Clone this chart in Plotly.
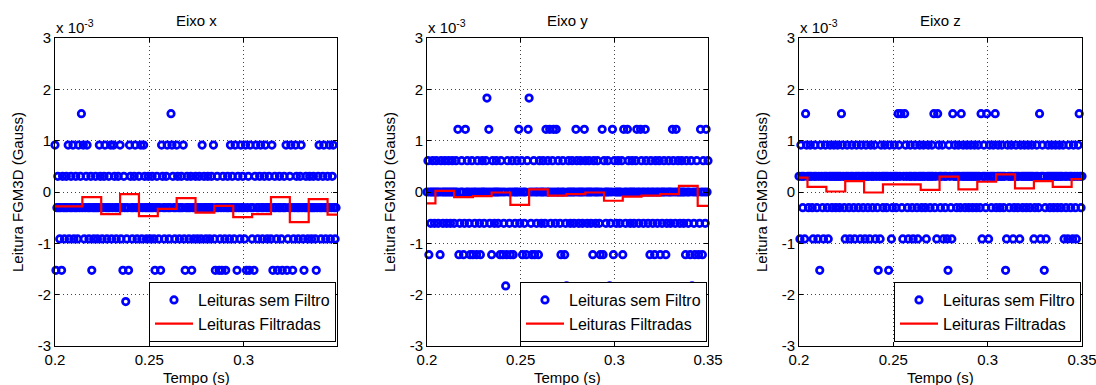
import plotly.graph_objects as go

# ---------------- data ----------------
T0 = 0.2          # first sample time (s)
DT = 0.0005       # sampling interval (s)
Q = 0.305         # quantisation step of the sensor (x 1e-3 Gauss)

# raw readings, in quantisation steps (value = code * Q * 1e-3 Gauss)
x_codes = [
    3, -5, -1, 1, -1, -3, -1, -5, 1, -1, -3, -1, 1, -1, 3, -3, -1, 1, -1, 3,
    -3, -1, 1, -1, -3, 3, -1, 1, 5, -1, 3, -3, -1, 1, 3, -1, -3, -1, 1, -5,
    -1, -3, -1, 1, -1, -3, -1, 3, 1, -1, -3, -1, 1, 3, -1, -3, -1, 1, -1, 3,
    -3, -1, 3, 1, -1, -3, -1, 1, -1, 3, -3, -1, -5, 1, -1, -7, -3, -1, -5, 3,
    1, -1, -3, -1, 1, 3, -1, -3, -1, 1, -1, 3, -3, -1, 3, 1, -1, -3, -1, 1,
    -1, -3, -1, 1, -1, -3, -5, -1, 1, -1, -3, -1, -5, 3, 1, -1, -3, -1, 1, 3,
    -1, -3, -1, 5, 3, 1, -1, -3, -1, 3, 1, -1, -3, -1, 1, -1, 3, -3, -5, -1,
    1, -1, -3, -1, 1, -5, -1, -3, -1, 1, -1, -3, -1, 1, -1, -3, 3, -1, 1, -1,
    -3, -1, 1, -1, -3, -1, 1, -1, 3, -3, -5, -1, 1, -1, -5, -3, -1, -5, 1, -1,
    -3, -5, -1, 1, -1, -3, 3, -1, 1, -1, -3, 3, -1, -5, 1, -1, -3, 3, -1, 1,
    -1, -3, 3, -5, -1, 1, -5, 3, -1, -3, -1, -5, 1, 3, -1, -3, -1, 1, 3, -1,
    -3, -1, 1, 3, -1, -3, -1, 1, -1, -3, 3, -5, -1, 1, -1, -3, -5, -1, 1, -1,
    -3, -5, -1, 1, -1, 3, -5, -3, -1, 1, 3, -1, -5, -3, -1, 3, 1, -1, -3, -1,
    1, 3, -1, -3, -5, -1, 1, -1, -3, -1, 1, -1, -3, -1, 1, -1, -3, -5, -1, 1,
    3, -1, -3, -1, 1, 3, -1, -3, -1, 1, -1, 3, -3, -1, 1, 3, -1, -3, -1, 1,
]
y_codes = [
    0, 2, -4, 0, -2, 0, 2, 0, -2, 0, 2, 0, -2, 0, -4, 2, 0, -2, 0, 2,
    0, -2, 0, 2, 0, -2, 0, 2, 0, -2, 0, 2, 0, 4, -4, -2, 0, 2, 0, -4,
    -2, 4, 0, 2, 0, -2, -4, 0, 2, -4, 0, -2, 0, -4, 2, 0, -2, -4, 0, 2,
    0, -2, 0, 2, 6, 0, 4, -2, 0, -4, 2, 0, -2, 0, 2, 0, -2, 0, -4, 2,
    0, -4, -2, 0, -6, -4, 2, 0, -2, -4, 0, 2, -4, 0, -2, 0, 2, 0, 4, -2,
    0, 2, -4, 0, -2, 0, -4, 2, 4, 6, 0, -2, -4, 0, 2, -4, 0, -2, 0, -4,
    2, 0, -2, 0, 2, 0, -2, 4, 0, 2, 0, 4, -2, 0, 2, 4, 0, -2, 4, 0,
    2, 0, -2, -4, 0, 2, 0, -4, -2, -6, 0, 2, 0, -2, 0, 2, 0, -2, 0, 4,
    2, 0, -2, 0, 2, 0, -2, 0, 4, 2, 0, -2, 0, 2, 0, -2, 0, -4, 2, 0,
    -2, 0, 2, 0, -2, -4, 0, 4, -4, 2, 0, -2, 0, 2, 0, -6, -2, 0, 4, -4,
    2, 0, -2, 0, 2, 0, -2, 0, 2, -4, 4, 0, -2, 0, 4, 2, 0, -2, 0, 2,
    0, -2, 0, 2, 4, 0, -2, 0, 4, 2, 0, -2, 0, 4, 2, 0, -2, 0, -4, 2,
    0, -2, 0, -4, 2, 0, -2, 0, 2, -4, 0, -2, 0, 2, 0, -4, -2, 0, 2, 0,
    -2, 0, 4, 2, 0, -2, 4, 0, 2, 0, -2, 0, 2, 0, -2, 0, -4, 2, 0, -2,
    0, -4, 2, -6, 0, -2, -4, 0, 2, 0, -4, -2, 4, 0, -4, 2, 0, -2, 4, 0, 2,
]
z_codes = [
    1, -3, 3, 1, -1, 1, -3, 5, 3, 1, -1, 1, 3, 1, -1, -3, 1, 3, 1, -1,
    -3, 1, -5, 3, 1, -1, -3, 1, 3, 1, -1, -3, 1, 3, 1, -1, 1, 3, 1, -1,
    1, 3, 1, -1, 1, 5, 3, 1, -1, -3, 1, 3, 1, -1, -3, 1, 3, 1, -1, -3,
    1, 3, 1, -1, 1, -3, 3, 1, -1, 1, -3, 3, 1, -1, 1, -3, 3, 1, -1, 1,
    3, -3, 1, -1, -5, 1, -3, 3, 1, -1, 1, 3, 1, -1, 1, -5, 3, 1, -3, -1,
    1, 3, 1, -1, 1, 5, 3, 1, 5, -1, -3, 1, 5, 3, 1, -1, -3, 1, 3, 1,
    -1, -3, 1, 3, 1, -1, -3, 1, 3, 1, -1, 1, 3, 1, -1, -3, 1, 3, 1, -1,
    1, 3, 1, 5, -1, 1, -3, 5, 3, 1, -1, 1, 3, -3, 1, -1, 1, -3, -5, 3,
    1, -1, -3, 5, 1, 3, 1, -1, 1, 3, 1, -1, 5, 1, 3, 1, -1, 1, 3, 1,
    -1, 1, 3, 1, -1, 1, 3, 1, -1, 1, 3, 1, -1, 5, -3, 1, 3, 1, -1, 5,
    1, -3, 3, 1, -1, 1, 3, 1, 5, -1, 1, 3, 1, -1, 1, 3, 1, -1, 1, -5,
    -3, 3, 1, -1, 1, 3, 1, -3, -1, 1, 3, 1, -1, 1, -3, 3, 1, -1, 1, 3,
    1, -1, 1, 3, 1, -1, 1, 3, 1, -3, -1, 1, 3, 1, -1, 5, -3, 1, 3, 1,
    -5, -1, -3, 1, 3, 1, -1, 1, 3, 1, -1, 1, 3, 1, -1, 1, 3, 1, -1, 1,
    3, -3, 1, -1, 1, -3, 3, 1, -1, 1, -3, 3, 1, -1, -3, 1, 3, 5, 1, -1, 1,
]

# filtered readings (block means, x 1e-3 Gauss), step edges in seconds
x_filt_t = [0.2, 0.2045, 0.2145, 0.2245, 0.2345, 0.2445, 0.2545, 0.2645, 0.2745,
            0.2845, 0.2945, 0.3045, 0.3145, 0.3245, 0.3345, 0.3445, 0.3495]
x_filt_v = [-0.28, -0.28, -0.10, -0.43, -0.04, -0.47, -0.33, -0.12, -0.40,
            -0.27, -0.49, -0.43, -0.10, -0.585, -0.14, -0.44, -0.44]
yz_filt_t = [0.2, 0.2045, 0.2145, 0.2245, 0.2345, 0.2445, 0.2545, 0.2645, 0.2745,
             0.2845, 0.2945, 0.3045, 0.3145, 0.3245, 0.3345, 0.3445, 0.35]
y_filt_v = [-0.22, 0.02, -0.10, -0.08, -0.01, -0.25, 0.05, -0.07, -0.04,
            -0.01, -0.17, -0.09, -0.07, -0.04, 0.12, -0.27, -0.27]
z_filt_v = [0.28, 0.10, 0.01, 0.21, -0.01, 0.15, 0.15, 0.04, 0.30,
            0.05, 0.20, 0.345, 0.07, 0.21, 0.10, 0.25, 0.25]

titles = ["Eixo x", "Eixo y", "Eixo z"]
x_ranges = [[0.2, 0.3495], [0.2, 0.35], [0.2, 0.35]]
x_ticks = [[0.2, 0.25, 0.3], [0.2, 0.25, 0.3, 0.35], [0.2, 0.25, 0.3, 0.35]]
y_ticks = [-3, -2, -1, 0, 1, 2, 3]
y_ticktext = ["-3", "-2", "-1", "0", "1", "2", "3"]

# ---------------- layout helpers ----------------
# body margin is removed below (post_script), so figure pixels == window pixels
W, H = 1096, 385
PLOT_L = [55, 427, 799]
PLOT_R = [337, 708, 1082]
PLOT_T, PLOT_B = 38, 346
FONT = "Liberation Sans, Arial, Helvetica, sans-serif"


def px(xp):
    return xp / W


def py(yp):
    return 1 - yp / H


fig = go.Figure()

raw_sets = [x_codes, y_codes, z_codes]
filt_sets = [(x_filt_t, x_filt_v), (yz_filt_t, y_filt_v), (yz_filt_t, z_filt_v)]
legend_names = ["legend", "legend2", "legend3"]

for k in range(3):
    codes = raw_sets[k]
    tt = [T0 + DT * i for i in range(len(codes))]
    vv = [c * Q for c in codes]
    xa = "x" if k == 0 else f"x{k+1}"
    ya = "y" if k == 0 else f"y{k+1}"
    fig.add_trace(go.Scatter(
        x=tt, y=vv, mode="markers", name="Leituras sem Filtro",
        marker=dict(symbol="circle-open", size=6.5, color="#0000ff",
                    line=dict(width=2.7, color="#0000ff")),
        xaxis=xa, yaxis=ya, legend=legend_names[k], cliponaxis=False,
        showlegend=True,
    ))
    ft, fv = filt_sets[k]
    fig.add_trace(go.Scatter(
        x=ft, y=fv, mode="lines", name="Leituras Filtradas",
        line=dict(color="#ff0000", width=2.2, shape="hv"),
        xaxis=xa, yaxis=ya, legend=legend_names[k], showlegend=True,
    ))

layout = dict(
    width=W, height=H,
    margin=dict(l=0, r=0, t=0, b=0, autoexpand=False),
    paper_bgcolor="white", plot_bgcolor="white",
    font=dict(family=FONT, size=15, color="black"),
)

annotations = []
for k in range(3):
    sx = "" if k == 0 else str(k + 1)
    common_axis = dict(
        showline=True, linecolor="black", linewidth=1, mirror="ticks",
        ticks="inside", ticklen=4, tickcolor="black", tickwidth=1,
        showgrid=True, gridcolor="#444444", gridwidth=1, griddash="1px,3px",
        zeroline=False, automargin=False, ticklabeloverflow="allow",
        tickfont=dict(family=FONT, size=15, color="black"),
    )
    layout["xaxis" + sx] = dict(
        common_axis, domain=[px(PLOT_L[k]), px(PLOT_R[k])],
        range=x_ranges[k], tickvals=x_ticks[k],
        ticktext=[f"{v:g}" for v in x_ticks[k]],
        anchor="y" + sx,
    )
    layout["yaxis" + sx] = dict(
        common_axis, domain=[py(PLOT_B), py(PLOT_T)],
        range=[-3, 3], tickvals=y_ticks, ticktext=y_ticktext,
        anchor="x" + sx,
    )
    lname = legend_names[k]
    layout[lname] = dict(
        x=px(PLOT_R[k] - 1), y=py(PLOT_B - 4), xanchor="right", yanchor="bottom",
        bgcolor="white", bordercolor="black", borderwidth=1,
        font=dict(family=FONT, size=16, color="black"),
        tracegroupgap=0, itemwidth=38,
    )
    cx = (PLOT_L[k] + PLOT_R[k]) / 2
    annotations.append(dict(
        text=titles[k], x=px(cx), y=py(20), xref="paper", yref="paper",
        xanchor="center", yanchor="middle", showarrow=False,
        font=dict(family=FONT, size=15, color="black"),
    ))
    annotations.append(dict(
        text="x 10<sup>-3</sup>", x=px(PLOT_L[k] - 1), y=py(26), xref="paper",
        yref="paper", xanchor="left", yanchor="middle", showarrow=False,
        font=dict(family=FONT, size=15, color="black"),
    ))
    annotations.append(dict(
        text="Tempo (s)", x=px(cx), y=py(377), xref="paper", yref="paper",
        xanchor="center", yanchor="middle", showarrow=False,
        font=dict(family=FONT, size=15, color="black"),
    ))
    annotations.append(dict(
        text="Leitura FGM3D (Gauss)", x=px(PLOT_L[k] - 37), y=py((PLOT_T + PLOT_B) / 2),
        xref="paper", yref="paper", xanchor="center", yanchor="middle",
        textangle=-90, showarrow=False,
        font=dict(family=FONT, size=15, color="black"),
    ))

layout["annotations"] = annotations
fig.update_layout(**layout)

fig.write_html(
    "out.html",
    config={"displayModeBar": False},
    post_script="document.body.style.margin='0';document.body.style.overflow='hidden';",
)
